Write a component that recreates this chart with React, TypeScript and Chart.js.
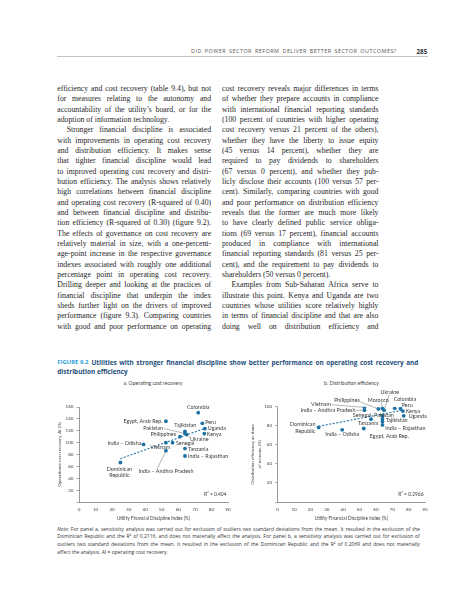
import React, { useEffect, useRef } from "react";
import { Chart, registerables } from "chart.js";

Chart.register(...registerables);

// ---------------- DATA ----------------
// Panel a: Operating cost recovery vs Utility Financial Discipline Index
const PLACES_A = [
  "Colombia", "Peru", "Uganda", "Kenya", "Egypt, Arab Rep.", "Tajikistan", "Pakistan", "Ukraine",
  "Philippines", "Senegal", "Vietnam", "India – Odisha", "India – Andhra Pradesh", "Tanzania",
  "India – Rajasthan", "Dominican Republic",
];
const FDI_A = [72, 74.5, 76, 75.7, 52.5, 64, 64, 65, 61, 56.5, 52.5, 39, 52.5, 64, 64, 25];
const OCR_A = [150.5, 132.5, 123.5, 115, 136, 119, 115.5, 113.5, 110, 100, 100, 97, 86.5, 90, 77.5, 66.5];
const TREND_A_X = [25, 77];
const TREND_A_Y = [73, 125];
const R2_A = "R² = 0.404";

// Panel b: Distribution efficiency vs Utility Financial Discipline Index
const PLACES_B = [
  "Colombia", "Peru", "Kenya", "Uganda", "Ukraine", "Morocco", "Philippines", "Vietnam",
  "India – Andhra Pradesh", "Senegal", "Pakistan", "Tajikistan", "Tanzania", "India – Rajasthan",
  "Dominican Republic", "India – Odisha", "Egypt, Arab Rep.",
];
const FDI_B = [71.5, 75, 76.5, 77, 65, 64, 61.5, 53, 53, 57, 64, 64, 64, 64, 25, 39.4, 52.6];
const DE_B = [98.4, 98, 95.5, 90.5, 96.5, 98.2, 97.8, 99.5, 96.5, 87, 90.5, 87.5, 84.5, 81, 78.3, 75.8, 77.2];
const TREND_B_X = [25, 76.5];
const TREND_B_Y = [79.5, 96.5];
const R2_B = "R² = 0.2966";

// Axes
const X_MIN = 0;
const X_MAX = 90;
const X_STEP = 10;
const Y_A_MAX = 160;
const Y_B_MAX = 100;
const Y_STEP = 20;

// ---------------- LABEL LAYOUT (offsets from point, px) ----------------
type Lab = { dx: number; dy: number; align: CanvasTextAlign; leader?: number[]; wrap?: boolean };
const LAYOUT_A: Lab[] = [
  { dx: 0, dy: -5.3, align: "center" },
  { dx: 2.8, dy: -0.6, align: "left" },
  { dx: 3, dy: 0, align: "left" },
  { dx: 2.5, dy: 0.6, align: "left" },
  { dx: -3.4, dy: 0, align: "right" },
  { dx: 0.3, dy: -5.6, align: "center" },
  { dx: -22, dy: -5.1, align: "right", leader: [-21, -4.8, -1.5, -0.3] },
  { dx: 3.5, dy: 4.3, align: "left", leader: [1, 1, 3.2, 3] },
  { dx: -4, dy: -2.4, align: "right" },
  { dx: 3.4, dy: 0.7, align: "left" },
  { dx: -5.7, dy: 4.4, align: "center" },
  { dx: -2.2, dy: -1, align: "right" },
  { dx: 0, dy: 20.4, align: "center", leader: [-8.5, 17.5, -0.5, 1.5] },
  { dx: 3, dy: 0.8, align: "left" },
  { dx: 3, dy: 0.7, align: "left" },
  { dx: -1, dy: 6.5, align: "center", wrap: true },
];
const LAYOUT_B: Lab[] = [
  { dx: -1, dy: -9.5, align: "left" },
  { dx: 1.3, dy: -3.2, align: "left" },
  { dx: 2.8, dy: 0, align: "left" },
  { dx: 5, dy: 0.2, align: "left" },
  { dx: 5.7, dy: -17.4, align: "center", leader: [5, -15, 0.5, -2] },
  { dx: -4.2, dy: -7.8, align: "center", leader: [-1, -5.5, 0, -1.5] },
  { dx: -18.6, dy: -8.2, align: "right", leader: [-18, -7, -1.5, -0.5] },
  { dx: -33.6, dy: -3, align: "right", leader: [-33, -2.5, -1.5, 0] },
  { dx: -9, dy: 0, align: "right", leader: [-8.5, 0.3, -1.5, 0] },
  { dx: -9, dy: -4.2, align: "center" },
  { dx: -8.4, dy: -0.3, align: "left" },
  { dx: 3.3, dy: 1.8, align: "left" },
  { dx: -4.2, dy: 1.4, align: "right" },
  { dx: 2.8, dy: 3.1, align: "left" },
  { dx: -3.2, dy: -2.8, align: "right", wrap: true },
  { dx: 0, dy: 4.7, align: "center" },
  { dx: 6, dy: 7.5, align: "left" },
];

// ---------------- PAGE TEXT ----------------
const LEFT_LINES = [
  "efficiency and cost recovery (table 9.4), but not",
  "for measures relating to the autonomy and",
  "accountability of the utility’s board, or for the",
  "adoption of information technology.",
  "Stronger financial discipline is associated",
  "with improvements in operating cost recovery",
  "and distribution efficiency. It makes sense",
  "that tighter financial discipline would lead",
  "to improved operating cost recovery and distri-",
  "bution efficiency. The analysis shows relatively",
  "high correlations between financial discipline",
  "and operating cost recovery (R-squared of 0.40)",
  "and between financial discipline and distribu-",
  "tion efficiency (R-squared of 0.30) (figure 9.2).",
  "The effects of governance on cost recovery are",
  "relatively material in size, with a one-percent-",
  "age-point increase in the respective governance",
  "indexes associated with roughly one additional",
  "percentage point in operating cost recovery.",
  "Drilling deeper and looking at the practices of",
  "financial discipline that underpin the index",
  "sheds further light on the drivers of improved",
  "performance (figure 9.3). Comparing countries",
  "with good and poor performance on operating",
];
const LEFT_INDENT = [4];
const LEFT_LAST = [3];
const RIGHT_LINES = [
  "cost recovery reveals major differences in terms",
  "of whether they prepare accounts in compliance",
  "with international financial reporting standards",
  "(100 percent of countries with higher operating",
  "cost recovery versus 21 percent of the others),",
  "whether they have the liberty to issue equity",
  "(45 versus 14 percent), whether they are",
  "required to pay dividends to shareholders",
  "(67 versus 0 percent), and whether they pub-",
  "licly disclose their accounts (100 versus 57 per-",
  "cent). Similarly, comparing countries with good",
  "and poor performance on distribution efficiency",
  "reveals that the former are much more likely",
  "to have clearly defined public service obliga-",
  "tions (69 versus 17 percent), financial accounts",
  "produced in compliance with international",
  "financial reporting standards (81 versus 25 per-",
  "cent), and the requirement to pay dividends to",
  "shareholders (50 versus 0 percent).",
  "Examples from Sub-Saharan Africa serve to",
  "illustrate this point. Kenya and Uganda are two",
  "countries whose utilities score relatively highly",
  "in terms of financial discipline and that are also",
  "doing well on distribution efficiency and",
];
const RIGHT_INDENT = [19];
const RIGHT_LAST = [18];
const NOTE_LINES = [
  "For panel a, sensitivity analysis was carried out for exclusion of outliers two standard deviations from the mean. It resulted in the exclusion of the",
  "Dominican Republic and the R² of 0.2116, and does not materially affect the analysis. For panel b, a sensitivity analysis was carried out for exclusion of",
  "outliers two standard deviations from the mean. It resulted in the exclusion of the Dominican Republic and the R² of 0.2069 and does not materially",
  "affect the analysis. AI = operating cost recovery.",
];

// ---------------- STYLE ----------------
const POINT_COLOR = "#1f72a6";
const LABEL_COLOR = "#3a3a3a";
const SANS = "Lato, 'Open Sans', sans-serif";
const WIDE_SANS = "'Open Sans', Lato, sans-serif";
const SERIF = "'Liberation Serif', 'DejaVu Serif', serif";

function makeLabelPlugin(names: string[], xs: number[], ys: number[], layout: Lab[], r2: string) {
  return {
    id: "pointLabels",
    afterDatasetsDraw(chart: any) {
      const { ctx, chartArea } = chart;
      const sx = chart.scales.x;
      const sy = chart.scales.y;
      ctx.save();
      ctx.font = `5.4px ${SANS}`;
      ctx.fillStyle = LABEL_COLOR;
      ctx.strokeStyle = "#6a6a6a";
      ctx.lineWidth = 0.5;
      ctx.textBaseline = "middle";
      names.forEach((n, i) => {
        const px = sx.getPixelForValue(xs[i]);
        const py = sy.getPixelForValue(ys[i]);
        const L = layout[i];
        if (L.leader) {
          ctx.beginPath();
          ctx.moveTo(px + L.leader[0], py + L.leader[1]);
          ctx.lineTo(px + L.leader[2], py + L.leader[3]);
          ctx.stroke();
        }
        const sp = n.indexOf(" ");
        const lines = L.wrap ? [n.slice(0, sp), n.slice(sp + 1)] : [n];
        ctx.textAlign = L.align;
        lines.forEach((t, k) => ctx.fillText(t, px + L.dx, py + L.dy + k * 6.5));
      });
      ctx.textAlign = "right";
      ctx.font = `4.9px ${SANS}`;
      ctx.fillText(r2, chartArea.right - 1.5, chartArea.bottom - 7.3);
      ctx.restore();
    },
  };
}

type PanelProps = {
  left: number; top: number; width: number; height: number;
  names: string[]; xs: number[]; ys: number[]; tx: number[]; ty: number[];
  layout: Lab[]; r2: string; yMax: number; yTitle: string | string[];
  pad: { left: number; top: number; right: number }; yWidth: number; yTitleLH: number; yTitlePadTop: number;
};

function Panel(p: PanelProps) {
  const ref = useRef<HTMLCanvasElement>(null);
  useEffect(() => {
    if (!ref.current) return;
    const tickFont = { family: SANS, size: 4.6 };
    const chart = new Chart(ref.current, {
      type: "scatter",
      data: {
        datasets: [
          {
            data: p.tx.map((x, i) => ({ x, y: p.ty[i] })),
            showLine: true,
            borderColor: POINT_COLOR,
            borderWidth: 1.1,
            borderDash: [2, 1.6],
            pointRadius: 0,
          },
          {
            data: p.xs.map((x, i) => ({ x, y: p.ys[i] })),
            backgroundColor: POINT_COLOR,
            borderWidth: 0,
            pointRadius: 1.9,
          },
        ],
      },
      options: {
        responsive: false,
        animation: false,
        layout: { padding: { left: p.pad.left, top: p.pad.top, right: p.pad.right, bottom: 0 } },
        plugins: { legend: { display: false }, tooltip: { enabled: false } },
        scales: {
          x: {
            type: "linear",
            min: X_MIN,
            max: X_MAX,
            ticks: { stepSize: X_STEP, font: tickFont, color: "#444", padding: 4.5, maxRotation: 0, autoSkip: false },
            grid: { display: false, drawTicks: false },
            border: { color: "#6f6f6f", width: 0.7 },
            title: {
              display: true,
              text: "Utility Financial Discipline Index (%)",
              font: { family: SANS, size: 4.7 },
              color: "#444",
              padding: { top: 0, bottom: 2.5 },
            },
            afterFit: (s: any) => { s.height = 22; },
          },
          y: {
            type: "linear",
            min: 0,
            max: p.yMax,
            ticks: {
              stepSize: Y_STEP,
              font: tickFont,
              color: "#444",
              padding: 3,
              callback: (v: any) => (v === 0 ? "" : String(v)),
            },
            grid: { drawOnChartArea: false, drawTicks: true, tickLength: 2.5, color: "#777", lineWidth: 0.6 },
            border: { color: "#6f6f6f", width: 0.7 },
            title: {
              display: true,
              text: p.yTitle,
              font: { family: SANS, size: 4.5, lineHeight: p.yTitleLH },
              color: "#444",
              padding: { top: p.yTitlePadTop, bottom: 0 },
            },
            afterFit: (s: any) => { s.width = p.yWidth; },
          },
        },
      },
      plugins: [makeLabelPlugin(p.names, p.xs, p.ys, p.layout, p.r2)],
    } as any);
    return () => chart.destroy();
  }, []);
  return (
    <canvas
      ref={ref}
      width={p.width}
      height={p.height}
      style={{ position: "absolute", left: p.left, top: p.top, width: p.width, height: p.height }}
    />
  );
}

const abs = (left: number, top: number, extra: React.CSSProperties = {}): React.CSSProperties => ({
  position: "absolute", left, top, whiteSpace: "nowrap", ...extra,
});

function Column({ lines, left, width, indent, last }: { lines: string[]; left: number; width: number; indent: number[]; last: number[] }) {
  const LH = 10.33;
  return (
    <>
      {lines.map((t, i) => {
        const ind = indent.includes(i) ? 9.4 : 0;
        const isLast = last.includes(i);
        return (
          <div
            key={i}
            style={abs(left + ind, 89.3 + i * LH - LH / 2, {
              width: width - ind,
              height: LH,
              lineHeight: `${LH}px`,
              fontFamily: SERIF,
              fontSize: 7.75,
              color: "#262626",
              textAlign: isLast ? "left" : "justify",
              textAlignLast: isLast ? "left" : "justify",
              whiteSpace: "normal",
              overflow: "visible",
            } as React.CSSProperties)}
          >
            {t}
          </div>
        );
      })}
    </>
  );
}

export default function App() {
  return (
    <div style={{ position: "absolute", left: 0, top: 0, width: 457, height: 600, background: "#fff", overflow: "hidden" }}>
      {/* running header */}
      <div
        style={abs(191, 48, {
          width: 205.7, fontFamily: WIDE_SANS, fontSize: 5.4, lineHeight: "6px", color: "#555",
          textAlign: "justify", textAlignLast: "justify", whiteSpace: "normal", letterSpacing: 0.5,
        } as React.CSSProperties)}
      >
        DID POWER SECTOR REFORM DELIVER BETTER SECTOR OUTCOMES?
      </div>
      <div style={abs(416.5, 47.5, { fontFamily: WIDE_SANS, fontSize: 6.3, fontWeight: 700, lineHeight: "7px", color: "#333" })}>285</div>
      <div style={{ position: "absolute", left: 57.3, top: 56.3, width: 371, height: 0, borderTop: "0.7px solid #c4c4c4" }} />

      {/* body text */}
      <Column lines={LEFT_LINES} left={57.3} width={153.8} indent={LEFT_INDENT} last={LEFT_LAST} />
      <Column lines={RIGHT_LINES} left={222} width={156.5} indent={RIGHT_INDENT} last={RIGHT_LAST} />

      {/* figure caption */}
      <div style={abs(57.3, 358.8, { fontFamily: WIDE_SANS, fontSize: 5.9, fontWeight: 700, lineHeight: "7px", color: "#2a9fd6" })}>
        FIGURE 9.2
      </div>
      <div
        style={abs(91.5, 358.8, {
          width: 326.8, fontFamily: WIDE_SANS, fontSize: 6.4, fontWeight: 700, lineHeight: "7px", color: "#1d4f7c",
          textAlign: "justify", textAlignLast: "justify", whiteSpace: "normal",
        } as React.CSSProperties)}
      >
        Utilities with stronger financial discipline show better performance on operating cost recovery and
      </div>
      <div style={abs(57.3, 367.8, { fontFamily: WIDE_SANS, fontSize: 6.4, fontWeight: 700, lineHeight: "7px", color: "#1d4f7c" })}>
        distribution efficiency
      </div>

      {/* panel titles */}
      <div style={abs(103, 380.3, { width: 100, textAlign: "center", fontFamily: SANS, fontSize: 5.1, lineHeight: "6px", color: "#444" })}>
        a. Operating cost recovery
      </div>
      <div style={abs(301.5, 380, { width: 100, textAlign: "center", fontFamily: SANS, fontSize: 5.1, lineHeight: "6px", color: "#444" })}>
        b. Distribution efficiency
      </div>

      <Panel
        left={40} top={378} width={200} height={146}
        names={PLACES_A} xs={FDI_A} ys={OCR_A} tx={TREND_A_X} ty={TREND_A_Y}
        layout={LAYOUT_A} r2={R2_A} yMax={Y_A_MAX}
        yTitle="Operational cost recovery, AI (%)"
        pad={{ left: 16, top: 29, right: 12 }} yWidth={23} yTitleLH={1.2} yTitlePadTop={0.8}
      />
      <Panel
        left={235} top={378} width={210} height={146}
        names={PLACES_B} xs={FDI_B} ys={DE_B} tx={TREND_B_X} ty={TREND_B_Y}
        layout={LAYOUT_B} r2={R2_B} yMax={Y_B_MAX}
        yTitle={["Distribution efficiency as share", "of revenue (%)"]}
        pad={{ left: 13, top: 28.8, right: 20 }} yWidth={29.7} yTitleLH={1.65} yTitlePadTop={0.7}
      />

      {/* note */}
      {NOTE_LINES.map((t, i) => (
        <div
          key={i}
          style={abs(57.3, 529 + i * 7.67 - 3.5, {
            width: 362.5, fontFamily: WIDE_SANS, fontSize: 5.0, lineHeight: "7px", color: "#333",
            textAlign: "justify", textAlignLast: i === NOTE_LINES.length - 1 ? "left" : "justify", whiteSpace: "normal",
          } as React.CSSProperties)}
        >
          {i === 0 ? <i>Note: </i> : null}
          {t}
        </div>
      ))}
    </div>
  );
}
